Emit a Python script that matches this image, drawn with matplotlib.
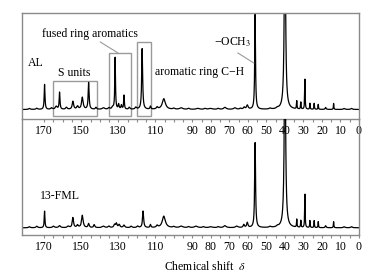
import numpy as np
import matplotlib
matplotlib.use("Agg")
import matplotlib.pyplot as plt
from matplotlib.patches import Rectangle

plt.rcParams['font.family'] = ['Liberation Serif', 'DejaVu Serif']
plt.rcParams['mathtext.fontset'] = 'stix'

# ---- axis ticks ----
tick_pos = [170, 165, 160, 155, 150, 145, 140, 135, 130, 125, 120, 115, 110, 105,
            100, 95, 90, 85, 80, 75, 70, 65, 60, 55, 50, 45, 40, 35, 30, 25, 20, 15, 10, 5, 0]
label_pos = [170, 150, 130, 110, 90, 80, 70, 60, 50, 40, 30, 20, 10, 0]
label_txt = ['170', '150', '130', '110', '90', '80', '70', '60', '50', '40', '30', '20', '10', '0']

# ---- AL spectrum (top): peak shift, height above baseline, half width ----
al_base = 9.0
al_pos = [178.0, 174.0, 169.8, 166.0, 163.5, 161.7, 158.0, 154.5, 152.0, 149.4, 146.0, 142.0, 138.0,
          135.0, 133.0, 131.7, 129.8, 128.3, 126.9, 124.0, 120.5, 117.1, 112.6, 109.0, 105.4,
          100.0, 96.0, 92.0, 87.0, 83.0, 80.0, 76.0, 72.4, 67.0, 64.0, 62.0,
          60.3, 56.1, 48.0, 44.0, 40.0, 33.6, 31.4, 29.2, 26.5, 24.2, 22.0, 18.0, 13.7, 8.0, 4.0]
al_amp = [1.0, 1.2, 25.0, 1.5, 3.0, 17.0, 2.0, 8.0, 3.0, 12.0, 26.7, 2.0, 1.5,
          1.5, 2.0, 51.7, 5.0, 4.0, 14.0, 2.0, 2.0, 60.7, 3.0, 2.0, 10.7,
          1.0, 1.5, 1.0, 1.0, 1.0, 1.0, 1.0, 2.0, 1.5, 1.0, 2.0,
          4.0, 95.0, 1.0, 1.0, 200.0, 8.0, 7.0, 30.0, 6.0, 6.0, 5.0, 2.0, 6.0, 1.0, 1.0]
al_wid = [0.5, 0.5, 0.25, 0.5, 0.6, 0.25, 0.5, 0.45, 0.5, 0.5, 0.3, 0.4, 0.8,
          0.5, 0.5, 0.22, 0.3, 0.3, 0.22, 0.4, 0.5, 0.3, 0.3, 0.5, 1.0,
          0.6, 1.0, 0.6, 1.0, 0.6, 1.0, 0.6, 0.8, 0.8, 0.5, 0.5,
          0.5, 0.25, 0.6, 0.6, 0.4, 0.15, 0.15, 0.15, 0.15, 0.15, 0.15, 0.3, 0.15, 0.5, 0.5]

# ---- 13-FML spectrum (bottom) ----
fml_base = 6.7
fml_pos = [178.0, 174.0, 169.8, 165.0, 161.7, 157.0, 154.5, 152.0, 149.4, 146.0, 143.0, 138.0, 135.0,
           132.0, 131.0, 129.5, 126.9, 123.0, 119.5, 116.6, 112.6, 109.0, 105.4, 100.0, 96.0,
           92.0, 88.0, 84.0, 80.0, 76.0, 72.4, 66.0, 62.2,
           60.3, 56.1, 48.0, 44.0, 40.0, 33.6, 31.4, 29.2, 26.5, 24.2, 22.0, 18.0, 13.7, 8.0, 4.0]
fml_amp = [1.0, 1.5, 16.6, 1.5, 2.0, 1.5, 10.0, 2.5, 12.3, 4.0, 3.0, 1.5, 1.5,
           3.0, 4.0, 3.0, 2.5, 1.5, 1.5, 16.6, 3.0, 2.0, 11.6, 1.0, 1.5,
           1.0, 1.5, 1.0, 1.0, 1.0, 2.0, 1.5, 3.0,
           5.0, 85.0, 1.0, 1.0, 200.0, 8.0, 7.0, 33.3, 7.0, 7.0, 6.0, 2.0, 6.0, 1.0, 1.0]
fml_wid = [0.5, 0.5, 0.22, 0.6, 0.6, 0.6, 0.4, 0.5, 0.5, 0.4, 0.4, 0.8, 0.5,
           0.5, 0.4, 0.5, 0.5, 0.5, 0.5, 0.35, 0.3, 0.5, 1.0, 0.6, 1.0,
           0.6, 1.0, 0.6, 1.0, 0.6, 0.8, 0.8, 0.4,
           0.4, 0.28, 0.6, 0.6, 0.4, 0.15, 0.15, 0.15, 0.15, 0.15, 0.15, 0.3, 0.15, 0.5, 0.5]


def spectrum(x, base, pos, amp, wid):
    y = np.full_like(x, base)
    for p, a, w in zip(pos, amp, wid):
        y += a / (1.0 + ((x - p) / w) ** 2)
    return y


x = np.linspace(0, 182, 18201)

W, H = 375, 277
fig = plt.figure(figsize=(W / 100, H / 100), dpi=100)

L, R = 22, 359
top_y0, top_y1 = 12.5, 118.5
bot_y1 = 234.5

ax1 = fig.add_axes([L / W, 1 - top_y1 / H, (R - L) / W, (top_y1 - top_y0) / H])
ax2 = fig.add_axes([L / W, 1 - bot_y1 / H, (R - L) / W, (bot_y1 - top_y1) / H])

frame_col = '#8a8a8a'
for ax, ytop in ((ax1, top_y1 - top_y0), (ax2, bot_y1 - top_y1)):
    ax.set_xlim(182, 0)
    ax.set_ylim(0, ytop)
    ax.set_yticks([])
    ax.set_xticks(tick_pos)
    ax.set_xticklabels([label_txt[label_pos.index(t)] if t in label_pos else '' for t in tick_pos])
    ax.tick_params(axis='x', direction='out', length=2.5, width=0.8, color=frame_col,
                   labelsize=8.5, pad=2)
    for s in ax.spines.values():
        s.set_color(frame_col)
        s.set_linewidth(1.0)
    ax.patch.set_alpha(0)
ax2.spines['top'].set_visible(False)

ax1.plot(x, spectrum(x, al_base, al_pos, al_amp, al_wid), color='black', lw=0.9)
ax2.plot(x, spectrum(x, fml_base, fml_pos, fml_amp, fml_wid), color='black', lw=0.9)

box_col = '#9a9a9a'
# S units box
ax1.add_patch(Rectangle((141.5, 2.3), 24.0, 35.0, fill=False, ec=box_col, lw=1.0))
# fused ring aromatics box
ax1.add_patch(Rectangle((122.9, 3.0), 11.9, 62.7, fill=False, ec=box_col, lw=1.0))
# aromatic ring C-H box
ax1.add_patch(Rectangle((112.2, 3.0), 7.6, 73.7, fill=False, ec=box_col, lw=1.0))

fs = 8.5
ax1.text(179.0, 55.5, 'AL', fontsize=fs, ha='left', va='center')
ax1.text(162.5, 45.5, 'S units', fontsize=fs, ha='left', va='center')
ax1.text(171.0, 84.5, 'fused ring aromatics', fontsize=fs, ha='left', va='center')
ax1.text(110.0, 47.0, 'aromatic ring C\u2212H', fontsize=fs, ha='left', va='center')
ax1.text(78.5, 76.0, '\u2212OCH$_3$', fontsize=fs, ha='left', va='center')
ax1.plot([139.7, 130.3], [76.5, 65.7], color=box_col, lw=0.8)
ax1.plot([65.4, 56.8], [65.5, 55.5], color=box_col, lw=0.8)

ax2.text(172.5, 38.5, '13-FML', fontsize=fs, ha='left', va='center')

fig.text(205 / W, 1 - 266 / H, 'Chemical shift  $\\delta$', fontsize=fs, ha='center', va='center')

fig.savefig('out.png', dpi=100)
